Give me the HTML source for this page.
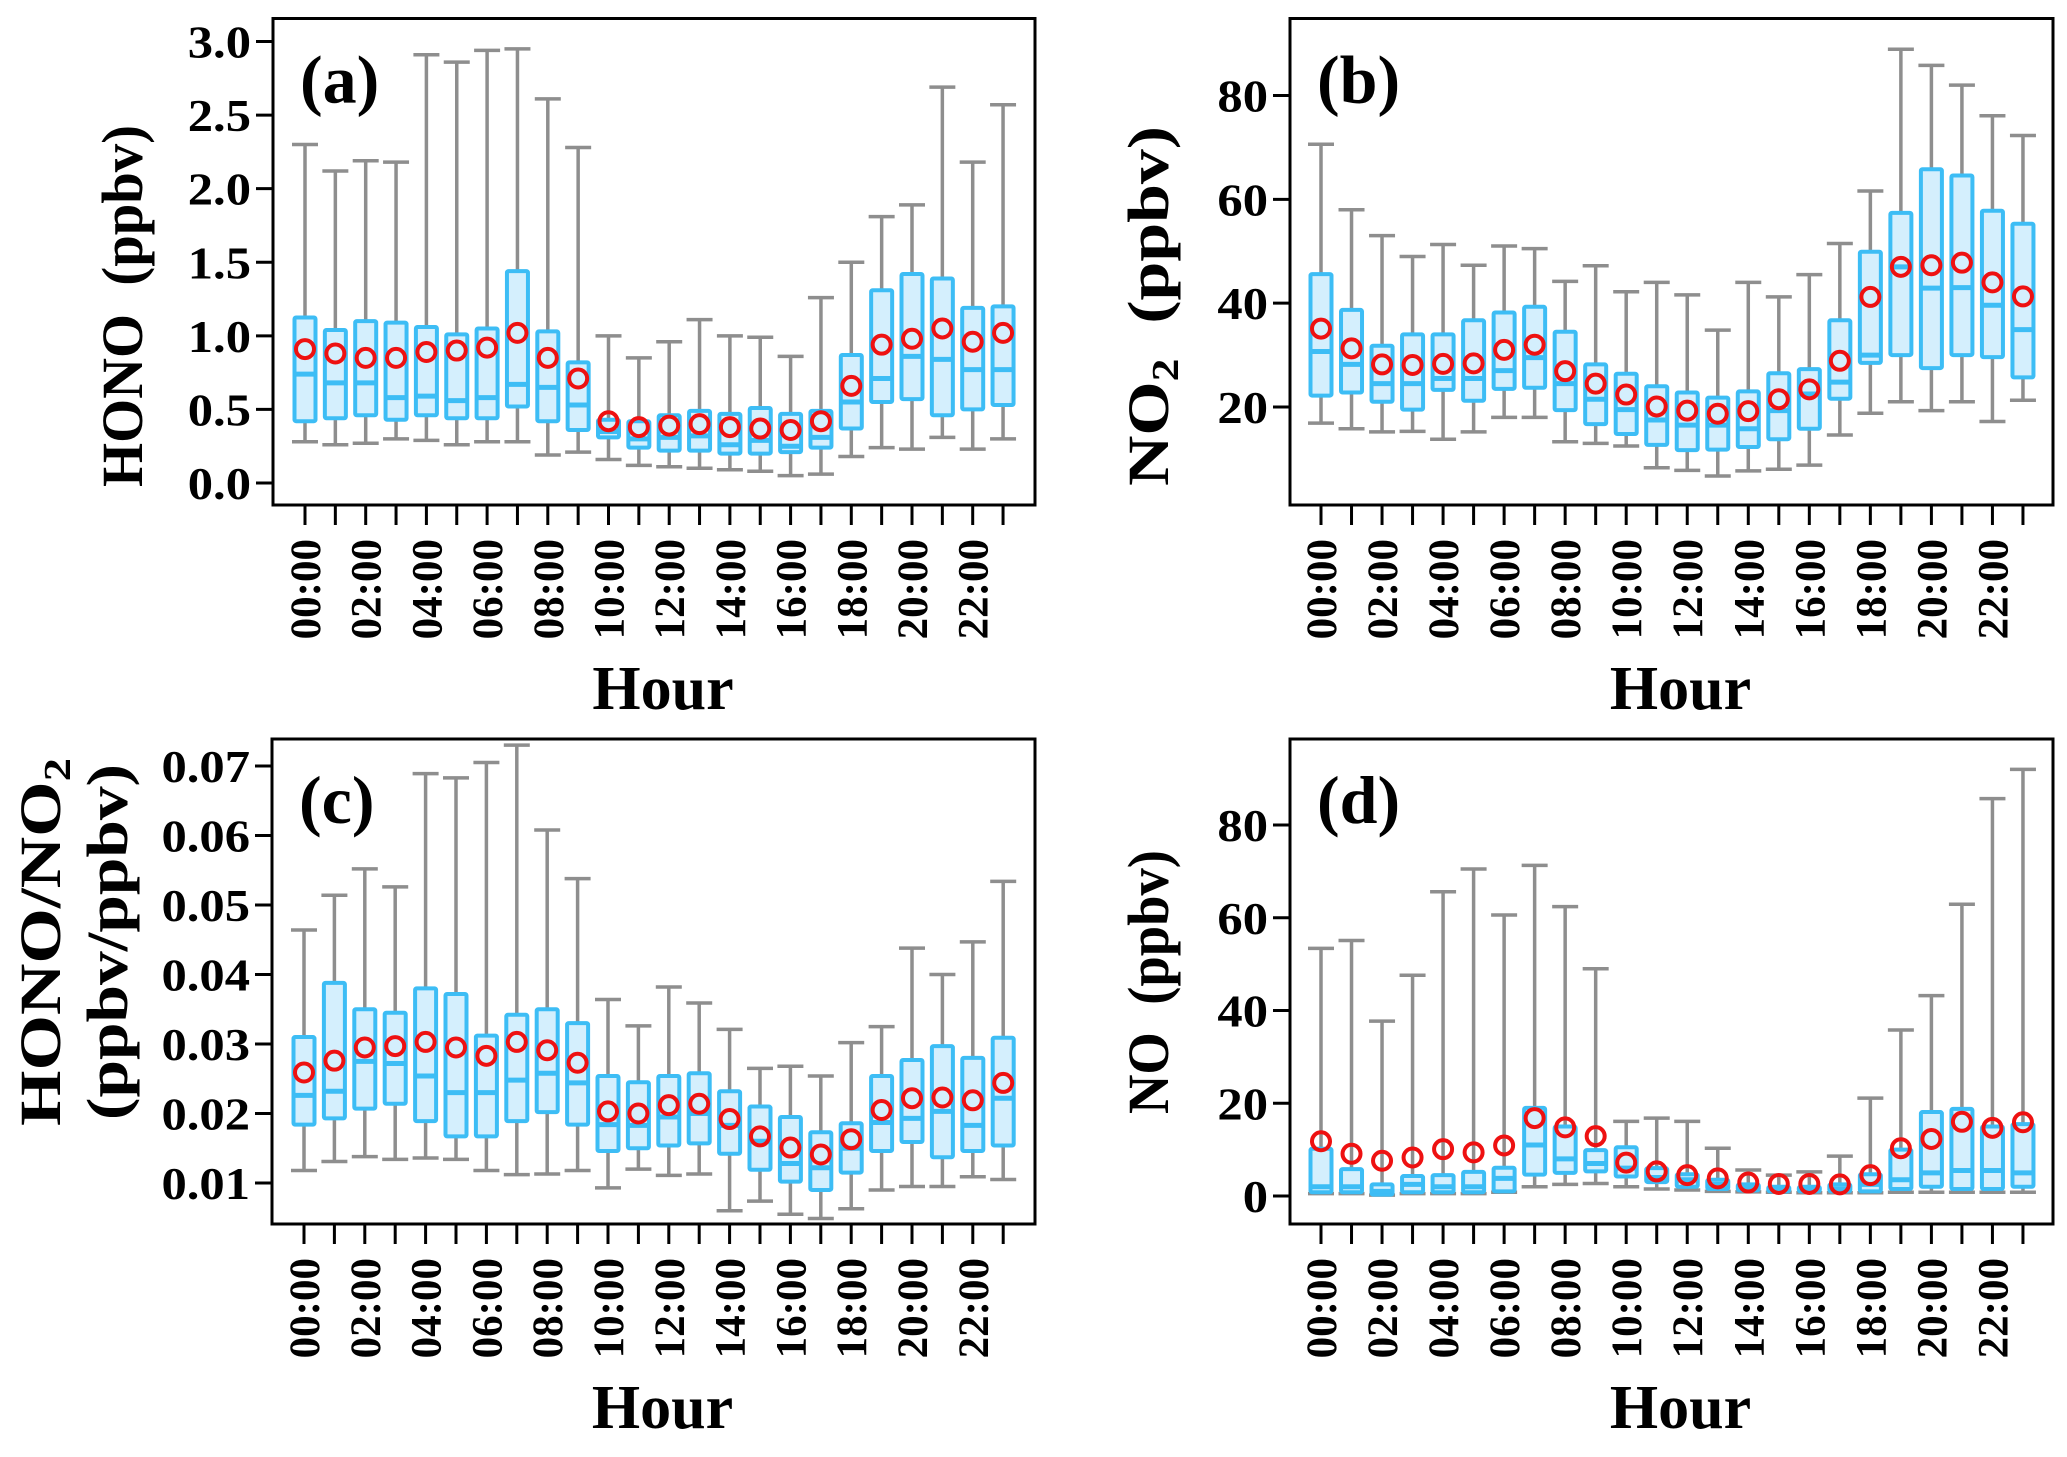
<!DOCTYPE html>
<html><head><meta charset="utf-8"><style>
html,body{margin:0;padding:0;background:#fff;}
svg{display:block;font-family:"Liberation Serif",serif;font-weight:bold;}
</style></head><body>
<svg id="chart" width="2067" height="1457" viewBox="0 0 2067 1457" xmlns="http://www.w3.org/2000/svg"></svg>
<script>
const hours = ["00:00","01:00","02:00","03:00","04:00","05:00","06:00","07:00","08:00","09:00","10:00","11:00","12:00","13:00","14:00","15:00","16:00","17:00","18:00","19:00","20:00","21:00","22:00","23:00"];
// Panel (a) HONO
const honoHigh = [2.30,2.12,2.19,2.18,2.91,2.86,2.94,2.95,2.61,2.28,1.00,0.85,0.96,1.11,1.00,0.99,0.86,1.26,1.50,1.81,1.89,2.69,2.18,2.57];
const honoQ3 = [1.125,1.04,1.10,1.09,1.06,1.01,1.05,1.44,1.03,0.82,0.43,0.42,0.46,0.49,0.47,0.51,0.47,0.49,0.87,1.31,1.42,1.39,1.19,1.20];
const honoMed = [0.74,0.68,0.68,0.58,0.59,0.56,0.58,0.67,0.65,0.53,0.35,0.30,0.31,0.32,0.26,0.29,0.25,0.31,0.55,0.71,0.86,0.84,0.77,0.77];
const honoQ1 = [0.42,0.44,0.46,0.43,0.46,0.44,0.44,0.52,0.42,0.36,0.31,0.24,0.22,0.22,0.20,0.20,0.21,0.24,0.37,0.55,0.57,0.46,0.50,0.53];
const honoLow = [0.28,0.26,0.27,0.30,0.29,0.26,0.28,0.28,0.19,0.21,0.16,0.12,0.11,0.10,0.09,0.08,0.05,0.06,0.18,0.24,0.23,0.31,0.23,0.30];
const honoMean = [0.91,0.88,0.85,0.85,0.89,0.90,0.92,1.02,0.85,0.71,0.42,0.38,0.39,0.40,0.38,0.37,0.36,0.42,0.66,0.94,0.98,1.05,0.96,1.02];
const honoTicks = ["0.0","0.5","1.0","1.5","2.0","2.5","3.0"];
// Panel (b) NO2
const no2High = [70.6,58,53,49,51.3,47.3,51,50.5,44.2,47.2,42.2,44,41.6,34.8,44,41.2,45.5,51.5,61.6,88.9,85.8,82,76.1,72.3];
const no2Q3 = [45.6,38.7,31.8,34,34,36.7,38.2,39.3,34.5,28.2,26.4,24,22.8,21.8,23,26.5,27.3,36.7,49.9,57.4,65.8,64.6,57.8,55.3];
const no2Med = [30.7,28.2,24.5,24.5,25.5,25.5,27,29.5,24.5,21.5,19.5,17.5,16.5,16.5,15.8,19.3,22.5,24.8,30,47,42.9,43,39.6,34.9];
const no2Q1 = [22.2,22.8,21,19.5,23.3,21.2,23.5,23.7,19.4,16.7,14.8,12.7,11.7,11.8,12.3,13.8,15.8,21.6,28.5,30,27.5,30,29.6,25.7];
const no2Low = [16.9,15.8,15.2,15.3,13.8,15.2,18,18,13.3,13,12.5,8.3,7.8,6.7,7.7,8,8.8,14.6,18.8,21,19.3,21,17.2,21.3];
const no2Mean = [35.1,31.3,28.2,28.1,28.3,28.4,31,32,26.9,24.5,22.4,20.1,19.3,18.7,19.2,21.5,23.4,28.9,41.2,47,47.3,47.8,44,41.3];
const no2Ticks = ["20","40","60","80"];
// Panel (c) HONO/NO2
const ratioHigh = [0.0464,0.0514,0.0552,0.0526,0.0689,0.0683,0.0705,0.0730,0.0608,0.0538,0.0364,0.0326,0.0382,0.0359,0.0321,0.0265,0.0268,0.0254,0.0302,0.0325,0.0438,0.0400,0.0447,0.0534];
const ratioQ3 = [0.0310,0.0388,0.0350,0.0345,0.0380,0.0372,0.0312,0.0342,0.0350,0.0330,0.0254,0.0245,0.0254,0.0258,0.0232,0.0210,0.0195,0.0173,0.0186,0.0254,0.0277,0.0297,0.0280,0.0309];
const ratioMed = [0.0226,0.0232,0.0275,0.0272,0.0254,0.0230,0.0230,0.0248,0.0258,0.0244,0.0184,0.0183,0.0195,0.0200,0.0183,0.0160,0.0128,0.0122,0.0150,0.0187,0.0193,0.0203,0.0183,0.0222];
const ratioQ1 = [0.0184,0.0193,0.0207,0.0214,0.0189,0.0167,0.0167,0.0189,0.0202,0.0184,0.0146,0.0150,0.0154,0.0157,0.0142,0.0119,0.0102,0.0090,0.0115,0.0146,0.0159,0.0137,0.0146,0.0154];
const ratioLow = [0.0118,0.0131,0.0138,0.0134,0.0136,0.0134,0.0118,0.0112,0.0113,0.0118,0.0093,0.0120,0.0111,0.0113,0.0060,0.0074,0.0055,0.0049,0.0063,0.0090,0.0095,0.0095,0.0109,0.0105];
const ratioMean = [0.0259,0.0276,0.0295,0.0297,0.0303,0.0295,0.0283,0.0303,0.0291,0.0273,0.0203,0.0200,0.0212,0.0214,0.0192,0.0167,0.0151,0.0141,0.0163,0.0205,0.0222,0.0223,0.0219,0.0244];
const ratioTicks = ["0.01","0.02","0.03","0.04","0.05","0.06","0.07"];
// Panel (d) NO
const noHigh = [53.4,55.1,37.7,47.6,65.6,70.5,60.6,71.3,62.4,49.0,16.1,16.8,16.1,10.3,5.6,4.5,5.2,8.6,21.1,35.8,43.2,62.9,85.7,92.0];
const noQ3 = [10.2,5.8,2.5,4.3,4.5,5.2,6.1,19.0,15.0,9.9,10.5,6.0,4.7,3.5,2.5,2.0,2.0,2.5,4.7,10.0,18.1,18.8,15.0,15.5];
const noMed = [2.0,2.0,1.0,2.5,2.0,2.0,3.8,11.0,8.0,7.0,6.0,4.0,3.5,2.5,2.0,1.5,1.5,1.5,2.5,3.5,5.0,5.5,5.5,5.0];
const noQ1 = [0.8,0.8,0.3,0.8,0.8,0.8,1.0,4.6,5.0,5.3,4.2,3.0,2.0,1.5,1.2,1.0,1.0,1.0,1.0,1.5,2.0,1.5,1.5,2.0];
const noLow = [0.5,0.5,0.2,0.5,0.5,0.5,0.8,2.0,2.5,2.7,2.0,1.5,1.3,1.0,0.9,0.8,0.7,0.7,0.7,0.8,0.8,0.8,0.8,0.8];
const noMean = [11.8,9.1,7.6,8.3,10.1,9.4,10.9,16.8,14.8,12.9,7.2,5.3,4.5,3.8,2.9,2.6,2.6,2.5,4.5,10.3,12.3,16.0,14.7,15.9];
const noTicks = ["0","20","40","60","80"];

const NS = "http://www.w3.org/2000/svg";
const svg = document.getElementById("chart");
function mk(tag, attrs, parent){
  const e = document.createElementNS(NS, tag);
  for (const k in attrs) e.setAttribute(k, attrs[k]);
  (parent||svg).appendChild(e);
  return e;
}
const BLUE="#3dbdf5", FILL="#d4effd", RED="#ee1111", GRAY="#8e8e8e";

function panel(cfg){
  const g = mk("g", {});
  
  
  const yScale = v => cfg.y0px + (v - cfg.v0) * (cfg.y1px - cfg.y0px) / (cfg.v1 - cfg.v0);
  const xScale = i => cfg.x0 + i * cfg.step;
  for (let i = 0; i < hours.length; i++){
    const x = xScale(i);
    const bg = mk("g", {}, g);
    
    
    const yH = yScale(cfg.high[i]), yL = yScale(cfg.low[i]);
    const yQ3 = yScale(cfg.q3[i]), yQ1 = yScale(cfg.q1[i]), yM = yScale(cfg.med[i]);
    mk("line", {x1:x, x2:x, y1:yH, y2:yL, stroke:GRAY, "stroke-width":3.5}, bg);
    mk("line", {x1:x-13, x2:x+13, y1:yH, y2:yH, stroke:GRAY, "stroke-width":3.5}, bg);
    mk("line", {x1:x-13, x2:x+13, y1:yL, y2:yL, stroke:GRAY, "stroke-width":3.5}, bg);
    mk("rect", {x:x-10.5, y:yQ3, width:21, height:Math.max(1, yQ1-yQ3), fill:FILL, stroke:BLUE, "stroke-width":4, rx:1.5}, bg);
    mk("line", {x1:x-10.5, x2:x+10.5, y1:yM, y2:yM, stroke:BLUE, "stroke-width":5}, bg);
    const c = mk("circle", {cx:x, cy:yScale(cfg.mean[i]), r:9, fill:"none", stroke:RED, "stroke-width":4}, bg);
    
    
  }
  const fr = mk("rect", {x:cfg.fx, y:cfg.fy, width:cfg.fw, height:cfg.fh, fill:"none", stroke:"#000", "stroke-width":3}, g);
  
  
  cfg.ticks.forEach(t => {
    const y = yScale(parseFloat(t));
    mk("line", {x1:cfg.fx-17, x2:cfg.fx, y1:y, y2:y, stroke:"#000", "stroke-width":3}, g);
    const tx = mk("text", {x:0, y:0, "text-anchor":"end", "font-size":46, transform:`translate(${cfg.fx-22},${y+16}) scale(1.1,1)`}, g);
    tx.textContent = t;
    
    
  });
  const by = cfg.fy + cfg.fh;
  for (let i = 0; i < hours.length; i++){
    const x = xScale(i);
    mk("line", {x1:x, x2:x, y1:by, y2:by+20, stroke:"#000", "stroke-width":3}, g);
    if (i % 2 === 0){
      const tx = mk("text", {x:0, y:0, "text-anchor":"end", "font-size":43, transform:`translate(${x+15},${by+34}) rotate(-90)`}, g);
      tx.textContent = hours[i];
      
      
    }
  }
  const ht = mk("text", {x:cfg.fx+cfg.fw/2+9, y:by+204, "text-anchor":"middle", "font-size":62}, g);
  ht.textContent = "Hour";
  
  
  const pl = mk("text", {x:cfg.fx+27, y:cfg.fy+84, "font-size":68}, g);
  pl.textContent = cfg.label;
  
  
  return g;
}

const top0 = 18.5, topH = 486.5, bot0 = 739, botH = 485;
panel({name:"panel-a-hono", label:"(a)", fx:273, fy:top0, fw:762, fh:topH, x0:305, step:30.35,
  v0:0, v1:3, y0px:483, y1px:41.5, ticks:honoTicks,
  high:honoHigh, q3:honoQ3, med:honoMed, q1:honoQ1, low:honoLow, mean:honoMean});
panel({name:"panel-b-no2", label:"(b)", fx:1290, fy:top0, fw:763, fh:topH, x0:1321, step:30.52,
  v0:20, v1:80, y0px:407, y1px:95.5, ticks:no2Ticks,
  high:no2High, q3:no2Q3, med:no2Med, q1:no2Q1, low:no2Low, mean:no2Mean});
panel({name:"panel-c-ratio", label:"(c)", fx:272, fy:bot0, fw:763, fh:botH, x0:304, step:30.4,
  v0:0.01, v1:0.07, y0px:1183, y1px:766, ticks:ratioTicks,
  high:ratioHigh, q3:ratioQ3, med:ratioMed, q1:ratioQ1, low:ratioLow, mean:ratioMean});
panel({name:"panel-d-no", label:"(d)", fx:1290, fy:bot0, fw:763, fh:botH, x0:1321, step:30.52,
  v0:0, v1:80, y0px:1196, y1px:825, ticks:noTicks,
  high:noHigh, q3:noQ3, med:noMed, q1:noQ1, low:noLow, mean:noMean});

function ylab(x, y, parts, name, len){
  const t = mk("text", {x:0, y:0, "text-anchor":"middle", "font-size":58, textLength:len, lengthAdjust:"spacingAndGlyphs", transform:`translate(${x},${y}) rotate(-90)`});
  
  
  parts.forEach(p => {
    const s = mk("tspan", p.sub ? {"font-size":38, dy:10} : (p.after ? {dy:-10} : {}), t);
    s.textContent = p.t;
  });
}
ylab(142, 306, [{t:"HONO\u00a0\u00a0(ppbv)"}], "y-axis-title-a", 362);
ylab(1168, 306, [{t:"NO"},{t:"2",sub:true},{t:"\u00a0\u00a0(ppbv)",after:true}], "y-axis-title-b", 360);
ylab(60, 942, [{t:"HONO/NO"},{t:"2",sub:true}], "y-axis-title-c-line1", 368);
ylab(127, 942, [{t:"(ppbv/ppbv)"}], "y-axis-title-c-line2", 356);
ylab(1168, 982, [{t:"NO\u00a0\u00a0(ppbv)"}], "y-axis-title-d", 264);
</script>
</body></html>
